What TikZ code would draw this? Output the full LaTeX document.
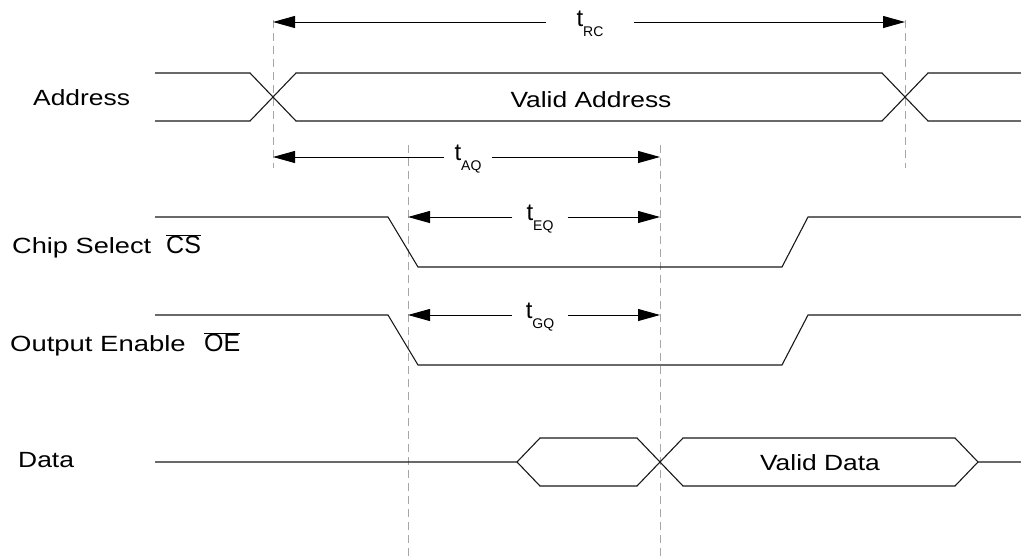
\documentclass[tikz,border=0pt]{standalone}
\usepackage{fontspec}
\setmainfont{Liberation Sans}
\newfontfamily\labfont[FakeStretch=1.2]{Liberation Sans}
\usetikzlibrary{arrows.meta}
\newcommand\tsub[1]{t\raisebox{-0.4em}{\fontsize{14}{14}\selectfont #1}}
\newcommand\ovl[1]{$\overline{\hbox{#1}}$}
\tikzset{
  sig/.style={line width=1.1pt, black!90},
  guide/.style={gray!70, line width=0.9pt, dash pattern=on 8pt off 5pt},
  dim/.style={line width=1pt, -{Triangle[length=22pt,width=12pt]}},
  tlab/.style={font=\fontsize{24}{24}\selectfont, inner ysep=2pt},
  siglab/.style={font=\labfont\fontsize{22}{24}\selectfont, anchor=west, inner sep=0pt},
  bar/.style={font=\fontsize{25}{25}\selectfont, anchor=base west, inner sep=0pt},
  intext/.style={font=\labfont\fontsize{22}{24}\selectfont, inner sep=0pt}
}
\begin{document}
\begin{tikzpicture}[x=1pt,y=-1pt]
\useasboundingbox (0,0) rectangle (1021,557);
% guide lines
\coordinate (g1t) at (273,20);  \coordinate (g1b) at (273,168);
\coordinate (g2t) at (905,20);  \coordinate (g2b) at (905,168);
\coordinate (g3t) at (408,145); \coordinate (g3b) at (408,557);
\coordinate (g4t) at (660,145); \coordinate (g4b) at (660,557);
\draw[guide] (g1t) -- (g1b);
\draw[guide] (g2t) -- (g2b);
\draw[guide] (g3t) -- (g3b);
\draw[guide] (g4t) -- (g4b);

% signal labels
\node[siglab] (laddr) at (33,98) {Address};
\node[siglab] (lcs) at (12,248) {\scalebox{1.03}[1]{Chip Select}};
\coordinate (csx) at (166,0);
\node[bar] (lcsb) at (csx |- lcs.base) {\ovl{CS}};
\node[siglab] (loe) at (10,346) {\scalebox{1.04}[1]{Output Enable}};
\coordinate (oex) at (204,0);
\node[bar] (loeb) at (oex |- loe.base) {\ovl{OE}};
\node[siglab] (ldata) at (18,460) {Data};

% t_RC
\coordinate (rcL) at (273,22); \coordinate (rcR) at (905,22);
\node[tlab, inner xsep=30pt] (trc) at (590,24) {\tsub{RC}};
\draw[dim] (trc.west |- rcL) -- (rcL);
\draw[dim] (trc.east |- rcR) -- (rcR);

% Address
\draw[sig] (155,73) -- (250,73) -- (296,121) -- (882,121) -- (928,73) -- (1021,73);
\draw[sig] (155,121) -- (250,121) -- (296,73) -- (882,73) -- (928,121) -- (1021,121);
\node[intext] (va) at (591,100) {Valid Address};

% t_AQ
\coordinate (aqL) at (273,157); \coordinate (aqR) at (660,157);
\node[tlab, inner xsep=10pt] (taq) at (468,159) {\tsub{AQ}};
\draw[dim] (taq.west |- aqL) -- (aqL);
\draw[dim] (taq.east |- aqR) -- (aqR);

% Chip select
\draw[sig] (155,217) -- (388,217) -- (418,267) -- (782,267) -- (808,217) -- (1021,217);
\coordinate (eqL) at (408,217); \coordinate (eqR) at (660,217);
\node[tlab, inner xsep=14pt] (teq) at (540,219) {\tsub{EQ}};
\draw[dim] (teq.west |- eqL) -- (eqL);
\draw[dim] (teq.east |- eqR) -- (eqR);

% Output enable
\draw[sig] (155,315) -- (388,315) -- (418,365) -- (782,365) -- (808,315) -- (1021,315);
\coordinate (gqL) at (408,315); \coordinate (gqR) at (660,315);
\node[tlab, inner xsep=14pt] (tgq) at (540,317) {\tsub{GQ}};
\draw[dim] (tgq.west |- gqL) -- (gqL);
\draw[dim] (tgq.east |- gqR) -- (gqR);

% Data
\draw[sig] (155,462) -- (517,462) -- (540,438) -- (637,438) -- (660,462) -- (683,438) -- (955,438) -- (978,462) -- (1021,462);
\draw[sig] (517,462) -- (540,486) -- (637,486) -- (660,462) -- (683,486) -- (955,486) -- (978,462);
\node[intext] (vd) at (820,463) {Valid Data};
\end{tikzpicture}
\end{document}
